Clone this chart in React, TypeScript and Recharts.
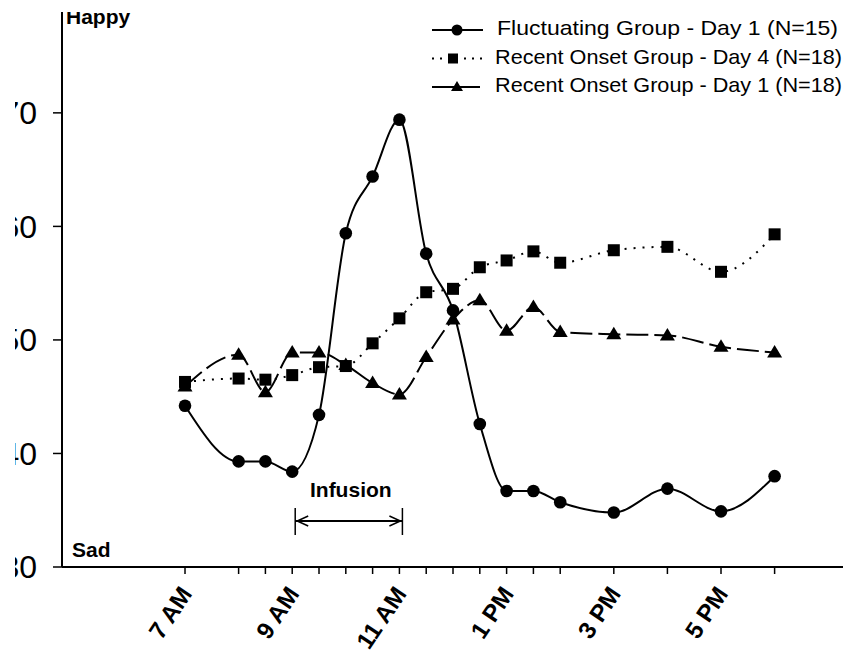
import React from "react";
import { LineChart, Line, XAxis, YAxis, Legend, ReferenceLine } from "recharts";

// time of day in hours (24h clock)
const hours = [7, 8, 8.5, 9, 9.5, 10, 10.5, 11, 11.5, 12, 12.5, 13, 13.5, 14, 15, 16, 17, 18];
const fluctuatingDay1 = [44.2, 39.3, 39.3, 38.4, 43.4, 59.4, 64.4, 69.4, 57.6, 52.6, 42.6, 36.7, 36.7, 35.7, 34.8, 36.9, 34.9, 38.0];
const recentOnsetDay4 = [46.3, 46.6, 46.5, 46.9, 47.6, 47.7, 49.7, 51.9, 54.2, 54.5, 56.4, 57.0, 57.8, 56.8, 57.9, 58.2, 56.0, 59.3];
const recentOnsetDay1 = [45.9, 48.7, 45.4, 48.9, 48.9, 47.8, 46.2, 45.2, 48.5, 51.8, 53.5, 50.8, 52.9, 50.7, 50.5, 50.4, 49.4, 48.9];

const labeledHours = [7, 9, 11, 13, 15, 17];
const hourLabels = ["7 AM", "9 AM", "11 AM", "1 PM", "3 PM", "5 PM"];
const yTicks = [30, 40, 50, 60, 70];
const seriesNames = [
  "Fluctuating Group - Day 1 (N=15)",
  "Recent Onset Group - Day 4 (N=18)",
  "Recent Onset Group - Day 1 (N=18)",
];

const data = hours.map((h, i) => ({
  hour: h,
  fluct: fluctuatingDay1[i],
  day4: recentOnsetDay4[i],
  day1: recentOnsetDay1[i],
}));

const FONT = "'Liberation Sans', Arial, sans-serif";

const Circle = (p: any) => <circle key={p.index} cx={p.cx} cy={p.cy} r={6.3} fill="#000" />;
const Square = (p: any) => <rect key={p.index} x={p.cx - 6} y={p.cy - 6} width={12} height={12} fill="#000" />;
const Triangle = (p: any) => (
  <polygon key={p.index} points={`${p.cx},${p.cy - 7.5} ${p.cx - 7.5},${p.cy + 5} ${p.cx + 7.5},${p.cy + 5}`} fill="#000" />
);

const XTick = ({ x, y, payload }: any) => {
  const idx = labeledHours.indexOf(payload.value);
  if (idx < 0) return <g />;
  const ax = x + 8;
  const ay = y + 18;
  return (
    <text x={ax} y={ay} transform={`rotate(-56 ${ax} ${ay})`} textAnchor="end"
      fontFamily={FONT} fontWeight="bold" fontSize={24} fill="#000">
      {hourLabels[idx]}
    </text>
  );
};

const InfusionArrow = (p: any) => {
  const { x1, x2, y1 } = p;
  const y = y1;
  const l = x1 + 3;
  const r = x2 + 3;
  return (
    <g>
      <line x1={l} y1={y} x2={r} y2={y} stroke="#000" strokeWidth={2} />
      <line x1={l} y1={y - 13} x2={l} y2={y + 14} stroke="#000" strokeWidth={1.5} />
      <line x1={r} y1={y - 13} x2={r} y2={y + 14} stroke="#000" strokeWidth={1.5} />
      <polyline points={`${l + 13},${y - 5} ${l + 2},${y} ${l + 13},${y + 5}`} fill="none" stroke="#000" strokeWidth={1.5} />
      <polyline points={`${r - 13},${y - 5} ${r - 2},${y} ${r - 13},${y + 5}`} fill="none" stroke="#000" strokeWidth={1.5} />
      <text x={(l + r) / 2 + 2} y={y - 24} textAnchor="middle" fontFamily={FONT} fontWeight="bold" fontSize={21} fill="#000">
        Infusion
      </text>
    </g>
  );
};

const LegendBox = () => {
  const rows = [
    { dash: undefined, marker: "circle", mx: 32, tx: 72, len: 341, end: 58 },
    { dash: "2 6", marker: "square", mx: 28, tx: 70, len: 347, end: 62 },
    { dash: undefined, marker: "triangle", mx: 32, tx: 70, len: 347, end: 55 },
  ];
  return (
    <svg width={430} height={95}>
      {rows.map((r, i) => {
        const cy = 20 + i * 28.5;
        return (
          <g key={i}>
            <line x1={7} y1={cy} x2={r.end} y2={cy} stroke="#000" strokeWidth={2} strokeDasharray={r.dash} />
            {r.marker === "circle" && <circle cx={r.mx} cy={cy} r={5.5} fill="#000" />}
            {r.marker === "square" && <rect x={r.mx - 5} y={cy - 5} width={10} height={10} fill="#000" />}
            {r.marker === "triangle" && (
              <polygon points={`${r.mx},${cy - 6} ${r.mx - 6},${cy + 4} ${r.mx + 6},${cy + 4}`} fill="#000" />
            )}
            <text x={r.tx} y={cy + 5} fontFamily={FONT} fontSize={21} fill="#000"
              textLength={r.len} lengthAdjust="spacingAndGlyphs">
              {seriesNames[i]}
            </text>
          </g>
        );
      })}
    </svg>
  );
};

export default function App() {
  return (
    <div style={{ position: "absolute", left: 15, top: 12, width: 842, height: 648, overflow: "hidden", background: "#fff" }}>
      <div style={{ position: "relative", left: -15, top: -12 }}>
        <LineChart width={857} height={660} data={data} margin={{ top: 5, right: 14, left: 0, bottom: 33 }}>
          <XAxis dataKey="hour" type="number" domain={[4.705, 19.276]} ticks={hours} interval={0}
            tick={<XTick />} tickSize={7} tickMargin={2} height={60}
            axisLine={{ stroke: "#000", strokeWidth: 2 }} tickLine={{ stroke: "#000", strokeWidth: 1.5 }} />
          <YAxis type="number" domain={[30, 79.5]} ticks={yTicks} width={62} tickSize={9} tickMargin={16}
            tick={{ fill: "#000", fontSize: 32, fontFamily: FONT }}
            axisLine={{ stroke: "#000", strokeWidth: 2 }} tickLine={{ stroke: "#000", strokeWidth: 1.5 }} />
          <Legend layout="vertical" align="center" verticalAlign="middle" content={<LegendBox />}
            wrapperStyle={{ top: 10, left: 425, width: 430, height: 95 }} />
          <ReferenceLine segment={[{ x: 9, y: 34.05 }, { x: 11, y: 34.05 }]} shape={<InfusionArrow />} ifOverflow="visible" />
          <Line type="monotone" dataKey="day4" stroke="#000" strokeWidth={2} strokeDasharray="2 7"
            dot={Square} activeDot={false} isAnimationActive={false} />
          <Line type="monotone" dataKey="day1" stroke="#000" strokeWidth={2} strokeDasharray="22 6"
            dot={Triangle} activeDot={false} isAnimationActive={false} />
          <Line type="monotone" dataKey="fluct" stroke="#000" strokeWidth={2}
            dot={Circle} activeDot={false} isAnimationActive={false} />
          <text x={66} y={24} fontFamily={FONT} fontWeight="bold" fontSize={21} fill="#000">Happy</text>
          <text x={72} y={557} fontFamily={FONT} fontWeight="bold" fontSize={21} fill="#000">Sad</text>
        </LineChart>
      </div>
    </div>
  );
}
